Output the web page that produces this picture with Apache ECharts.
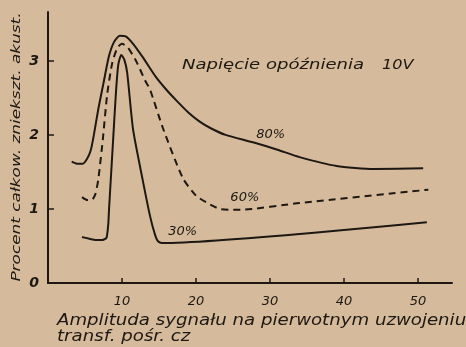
<!DOCTYPE html>
<html>
<head>
<meta charset="utf-8">
<style>
  html, body { margin: 0; padding: 0; background: #d5bb9b; }
  #chart { width: 466px; height: 347px; }
</style>
<script src="https://cdn.jsdelivr.net/npm/echarts@6/dist/echarts.min.js"></script>
</head>
<body>
<div id="chart"></div>
<script>
// Distortion vs. signal amplitude for three modulation depths (delay voltage 10 V)
const x80 = [3.2, 4.0, 4.7, 5.3, 5.8, 6.2, 6.8, 7.5, 8.2, 8.9, 9.7, 10.5, 11.5, 12.8, 14.6, 16.0, 17.4, 19.0, 20.5, 22.0, 24.0, 27.7, 31.0, 34.0, 39.0, 44.0, 50.7];
const y80 = [1.64, 1.61, 1.61, 1.68, 1.80, 2.00, 2.35, 2.70, 3.05, 3.25, 3.34, 3.33, 3.23, 3.05, 2.78, 2.61, 2.46, 2.30, 2.18, 2.09, 2.00, 1.90, 1.80, 1.70, 1.58, 1.54, 1.55];

const x60 = [4.6, 5.3, 5.9, 6.4, 6.8, 7.4, 8.0, 8.7, 9.4, 10.0, 10.8, 12.0, 13.1, 13.8, 15.5, 18.2, 20.0, 21.9, 23.2, 24.6, 26.0, 34.0, 51.4];
const y60 = [1.16, 1.12, 1.12, 1.20, 1.40, 1.93, 2.55, 2.98, 3.18, 3.23, 3.18, 2.98, 2.74, 2.61, 2.10, 1.42, 1.18, 1.06, 1.00, 0.99, 0.99, 1.08, 1.26];

const x30 = [4.6, 5.5, 6.5, 7.3, 7.9, 8.15, 8.25, 8.8, 9.2, 9.5, 9.9, 10.3, 10.7, 11.5, 12.8, 13.8, 14.5, 14.9, 15.4, 51.2];
const y30 = [0.62, 0.60, 0.58, 0.58, 0.61, 0.80, 1.00, 1.93, 2.60, 2.95, 3.08, 3.02, 2.84, 2.07, 1.39, 0.90, 0.64, 0.56, 0.54, 0.82];

// Curve captions and where they sit (data coordinates)
const seriesNames = ['80%', '60%', '30%'];
const captionX = [30.1, 26.6, 18.2];
const captionY = [2.00, 1.15, 0.69];

const xTicks = [10, 20, 30, 40, 50];
const yTicks = [0, 1, 2, 3];

const ink = '#1d1812';
const paper = '#d5bb9b';
const handFont = '"DejaVu Sans"';

function pairs(xs, ys) { return xs.map((x, i) => [x, ys[i]]); }

function curve(idx, xs, ys, dashed) {
  return {
    name: seriesNames[idx],
    type: 'line',
    data: pairs(xs, ys),
    smooth: 0.2,
    symbol: 'none',
    lineStyle: { color: ink, width: 2, type: dashed ? [7, 5] : 'solid' },
    markPoint: {
      symbol: 'circle',
      symbolSize: 0,
      label: {
        show: true,
        position: 'inside',
        formatter: seriesNames[idx],
        color: ink,
        fontFamily: 'DejaVu Sans',
        fontStyle: 'italic',
        fontSize: 13
      },
      data: [{ coord: [captionX[idx], captionY[idx]] }]
    }
  };
}

const chart = echarts.init(document.getElementById('chart'), null, { renderer: 'canvas' });
chart.setOption({
  backgroundColor: paper,
  animation: false,
  grid: { left: 48, right: 14, top: 12, bottom: 64 },
  xAxis: {
    type: 'value',
    min: 0,
    max: 54.6,
    interval: 10,
    splitLine: { show: false },
    axisLine: { lineStyle: { color: ink, width: 2 } },
    axisTick: { inside: true, length: 5, customValues: xTicks, lineStyle: { color: ink, width: 1.5 } },
    axisLabel: {
      margin: 12,
      color: ink,
      fontFamily: 'DejaVu Sans',
      fontStyle: 'italic',
      fontSize: 13,
      customValues: xTicks
    }
  },
  yAxis: {
    type: 'value',
    min: 0,
    max: 3.66,
    interval: 1,
    splitLine: { show: false },
    axisLine: { lineStyle: { color: ink, width: 2 } },
    axisTick: { inside: true, length: 6, customValues: yTicks.slice(1), lineStyle: { color: ink, width: 1.5 } },
    axisLabel: {
      margin: 9,
      color: ink,
      fontFamily: 'DejaVu Sans',
      fontStyle: 'italic',
      fontWeight: 'bold',
      fontSize: 14,
      customValues: yTicks
    }
  },
  graphic: [
    {
      type: 'text',
      x: 182,
      y: 65,
      scaleX: 1.29,
      style: {
        text: 'Napięcie opóźnienia',
        fill: ink,
        font: 'italic 14px ' + handFont,
        verticalAlign: 'middle'
      }
    },
    {
      type: 'text',
      x: 382,
      y: 65,
      scaleX: 1.15,
      style: {
        text: '10V',
        fill: ink,
        font: 'italic 14px ' + handFont,
        verticalAlign: 'middle'
      }
    },
    {
      type: 'text',
      x: 17,
      y: 147,
      rotation: Math.PI / 2,
      scaleX: 1.3,
      style: {
        text: 'Procent całkow. zniekszt. akust.',
        fill: ink,
        font: 'italic 13px ' + handFont,
        align: 'center',
        verticalAlign: 'middle'
      }
    },
    {
      type: 'text',
      x: 57,
      y: 313,
      scaleX: 1.21,
      style: {
        text: 'Amplituda sygnału na pierwotnym uzwojeniu\ntransf. pośr. cz',
        fill: ink,
        font: 'italic 15px ' + handFont,
        lineHeight: 16
      }
    }
  ],
  series: [
    curve(0, x80, y80, false),
    curve(1, x60, y60, true),
    curve(2, x30, y30, false)
  ]
});
</script>
</body>
</html>
